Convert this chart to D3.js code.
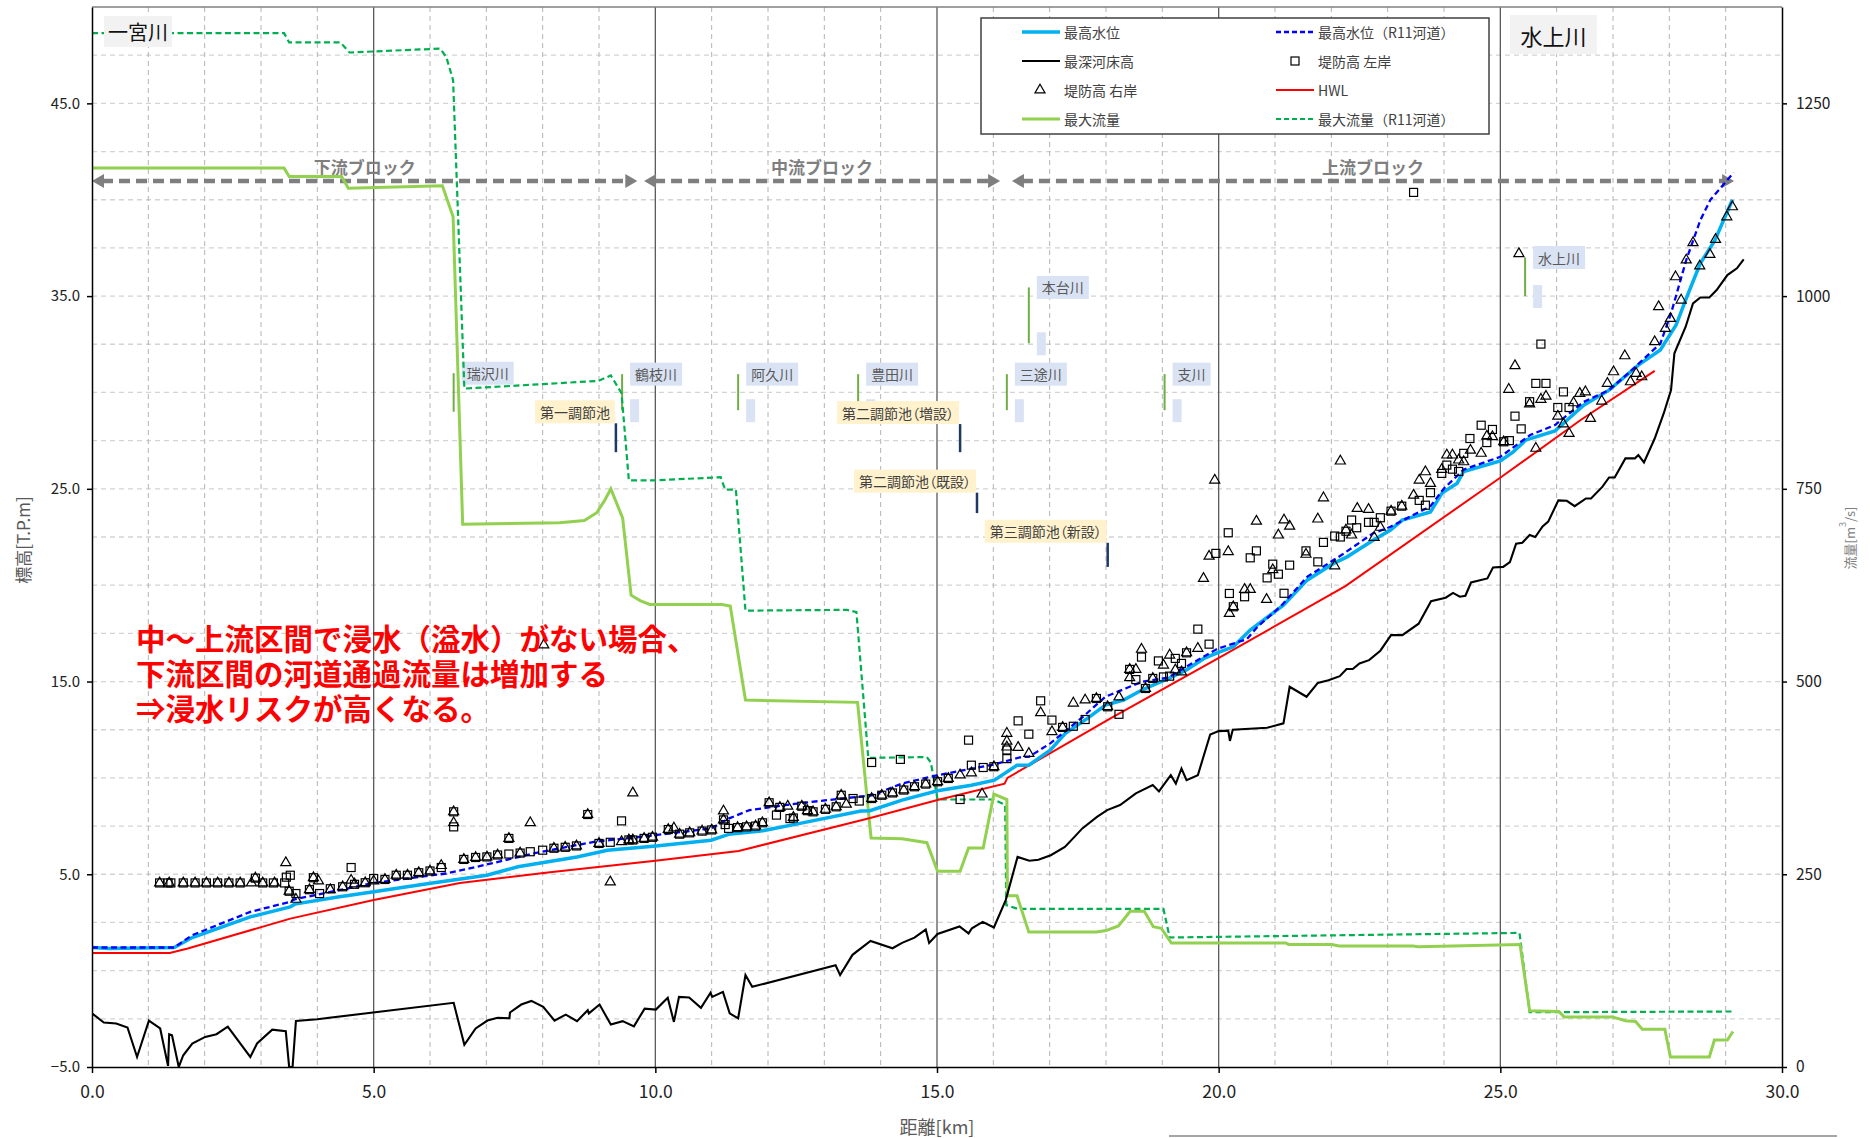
<!DOCTYPE html>
<html lang="ja">
<head>
<meta charset="utf-8">
<title>一宮川 縦断図</title>
<script src="https://cdn.jsdelivr.net/npm/d3@7"></script>
<style>
  html, body { margin: 0; padding: 0; background: #fff; }
  svg { display: block; font-family: 'Noto Sans CJK JP', 'Noto Sans', sans-serif; }
  .palt { font-feature-settings: "palt"; }
</style>
</head>
<body>
<div class="root"></div>
<script>
// ---- data (km, T.P.m) / (km, m3/s) ----
const distTicks = [0, 5, 10, 15, 20, 25, 30]
const elevTicks = [-5, 5, 15, 25, 35, 45]
const flowTicks = [0, 250, 500, 750, 1000, 1250]

const hwl = [[0,0.92],[1.38,0.92],[1.7,1.15],[3.52,2.7],[5.0,3.66],[6.53,4.55],[8.13,5.1],[10.0,5.7],[11.48,6.21],
  [13.78,7.89],[15.01,8.85],[16.2,9.7],[16.25,10.0],[18.08,13.09],[20.02,16.25],[22.25,19.95],[25.01,25.6],
  [26.42,28.56],[27.74,31.12]]

const maxLevel = [[0,1.2],[0.3,1.15],[1.46,1.2],[1.78,1.72],[2.81,2.79],[3.52,3.31],[3.6,3.45],[4.39,3.83],[4.55,3.9],
  [5.0,4.09],[5.98,4.52],[7.01,4.95],[7.56,5.39],[8.61,5.9],[9.15,6.25],[10.01,6.47],[10.99,6.77],[11.3,7.07],
  [11.87,7.24],[12.57,7.64],[13.65,8.28],[13.81,8.3],[14.38,8.85],[15.01,9.33],[15.61,9.62],[16.02,9.88],
  [16.42,10.66],[16.63,10.66],[17.01,11.44],[17.28,12.31],[17.67,13.09],[17.99,13.78],[18.31,14.04],[18.63,14.55],
  [19.11,15.16],[19.42,15.59],[19.74,16.2],[20.02,16.54],[20.26,16.8],[20.56,17.67],[21.15,18.96],[21.57,20.26],
  [22.04,21.13],[22.28,21.47],[22.75,22.34],[23.05,22.86],[23.26,23.38],[23.76,23.8],[23.97,24.8],[24.23,25.28],
  [24.35,25.9],[25.0,26.45],[25.23,26.92],[25.45,27.53],[25.97,28.0],[26.48,29.34],[26.93,30.12],[27.45,31.42],
  [27.84,32.2],[28.12,33.5],[28.29,34.8],[28.55,36.7],[28.81,37.9],[29.12,40.0]]

const maxLevelR11 = [[0,1.2],[1.46,1.2],[1.78,1.84],[2.81,3.05],[3.52,3.57],[3.6,3.7],[5.0,4.55],[6.29,5.04],[7.09,5.56],
  [7.88,6.11],[8.91,6.68],[10.0,7.03],[10.99,7.38],[11.31,7.9],[11.67,8.33],[12.6,8.7],[13.85,9.1],[14.38,9.71],
  [15.01,10.14],[16.03,10.71],[16.5,11.09],[16.63,11.09],[17.01,11.79],[17.59,13.17],[17.99,14.21],[18.63,14.98],
  [19.11,15.21],[19.5,15.9],[19.98,16.7],[20.5,17.2],[20.69,17.84],[21.12,18.96],[21.57,20.43],[22.2,21.6],
  [22.74,22.69],[23.05,23.03],[23.76,24.1],[24.0,25.02],[24.35,26.0],[25.0,26.66],[25.53,27.79],[25.97,28.31],
  [26.48,29.51],[26.93,30.12],[27.27,30.99],[27.84,32.54],[28.03,34.1],[28.3,36.87],[28.55,38.94],[28.73,40.0],
  [29.14,41.4]]

const bedLevel = [[0,-2.22],[0.21,-2.69],[0.43,-2.74],[0.63,-2.95],[0.8,-4.48],[1.01,-2.6],[1.21,-3.0],[1.35,-4.94],
  [1.37,-3.3],[1.42,-3.35],[1.54,-5.0],[1.62,-4.39],[1.78,-3.78],[2.01,-3.44],[2.21,-3.3],[2.41,-2.91],[2.81,-4.48],
  [2.93,-3.78],[3.2,-3.06],[3.44,-3.14],[3.5,-5.0],[3.56,-5.0],[3.62,-2.61],[4.0,-2.52],[6.42,-1.67],[6.61,-3.85],
  [6.81,-3.0],[7.02,-2.59],[7.2,-2.45],[7.41,-2.47],[7.42,-2.17],[7.62,-1.76],[7.8,-1.57],[8.01,-1.88],[8.21,-2.59],
  [8.41,-2.28],[8.61,-2.62],[8.8,-2.05],[8.82,-2.22],[9.01,-1.76],[9.21,-2.8],[9.42,-2.62],[9.62,-2.89],[9.81,-1.97],
  [10.01,-2.02],[10.22,-1.41],[10.33,-2.66],[10.42,-1.36],[10.6,-1.39],[10.81,-1.93],[10.98,-1.15],[11.01,-1.36],
  [11.2,-1.1],[11.32,-2.22],[11.47,-2.48],[11.6,-0.23],[11.72,-0.84],[13.2,0.28],[13.28,-0.23],[13.5,0.82],
  [13.82,1.54],[14.21,1.16],[14.38,1.44],[14.6,1.71],[14.8,2.13],[14.86,1.44],[15.01,1.9],[15.4,2.29],[15.56,1.93],
  [15.62,2.2],[15.81,2.53],[16.01,2.24],[16.22,3.66],[16.43,5.9],[16.64,5.7],[16.8,5.75],[17.02,5.99],[17.27,6.42],
  [17.44,6.94],[17.58,7.38],[17.84,7.98],[18.02,8.33],[18.25,8.59],[18.53,9.2],[18.83,9.63],[18.94,9.3],[19.15,10.14],
  [19.24,9.71],[19.34,10.49],[19.43,9.88],[19.63,10.14],[19.85,12.25],[20.0,12.43],[20.17,12.45],[20.2,11.92],
  [20.25,12.5],[20.86,12.6],[21.15,12.83],[21.26,14.73],[21.56,14.21],[21.76,14.93],[21.95,15.07],[22.15,15.28],
  [22.27,15.65],[22.38,15.65],[22.5,15.94],[22.67,16.11],[22.87,16.6],[23.06,17.41],[23.26,17.41],[23.55,18.0],
  [23.77,19.17],[24.03,19.35],[24.16,19.6],[24.28,19.4],[24.38,19.45],[24.48,20.14],[24.77,20.35],[24.87,20.92],
  [25.05,20.95],[25.17,21.2],[25.28,22.15],[25.39,22.2],[25.52,22.6],[25.62,22.5],[25.75,23.05],[25.85,23.3],
  [26.03,24.4],[26.18,24.38],[26.32,24.1],[26.52,24.5],[26.61,24.5],[26.81,25.1],[26.93,25.59],[27.03,25.59],
  [27.22,26.58],[27.39,26.58],[27.45,26.75],[27.55,26.37],[27.74,27.61],[27.9,28.91],[28.03,30.12],[28.09,32.03],
  [28.29,33.41],[28.42,34.62],[28.55,34.93],[28.71,34.93],[28.84,35.31],[29.03,36.09],[29.2,36.44],[29.32,36.9]]

const maxFlow = [[0,1166],[3.41,1166],[3.5,1155],[4.43,1155],[4.55,1140],[6.22,1143],[6.41,1103],[6.58,704],[8.3,706],
  [8.74,709],[8.96,719],[9.1,735],[9.21,750],[9.42,712],[9.57,612],[9.73,605],[9.9,600],[11.18,600],[11.33,598],
  [11.6,476],[13.59,473],[13.83,297],[14.38,296],[14.82,291],[15.01,254],[15.41,254],[15.56,284],[15.82,284],
  [16.01,354],[16.24,347],[16.25,222],[16.42,222],[16.63,175],[17.83,175],[18.0,177],[18.22,183],[18.43,202],
  [18.68,202],[18.84,182],[18.98,180],[19.16,161],[21.19,161],[21.24,159],[22.01,159],[22.14,157],[23.45,157],
  [23.54,156],[25.35,159],[25.52,73],[26.04,72],[26.13,65],[26.99,65],[27.22,60],[27.4,59],[27.52,49],[27.92,49],
  [28.02,13],[28.71,13],[28.8,35],[29.03,35],[29.13,46]]

const maxFlowR11 = [[0,1341],[3.41,1341],[3.5,1329],[4.41,1329],[4.57,1316],[6.18,1321],[6.29,1310],[6.41,1280],
  [6.61,880],[8.99,890],[9.21,897],[9.4,874],[9.53,761],[9.97,761],[11.16,765],[11.24,749],[11.43,749],[11.6,592],
  [13.4,593],[13.57,590],[13.78,401],[14.82,402],[14.89,395],[15.01,347],[16.0,347],[16.21,340],[16.23,210],
  [16.44,205],[19.02,205],[19.13,168],[25.34,174],[25.52,71],[29.12,72]]

const leftBank = [[1.2,4.55],[1.35,4.55],[1.4,4.55],[1.62,4.55],[1.83,4.55],[2.03,4.55],[2.23,4.55],[2.43,4.55],
  [2.63,4.55],[2.9,4.8],[3.03,4.55],[3.22,4.55],[3.42,4.55],[3.45,4.85],[3.52,4.95],[3.5,4.12],[3.62,4.0],[3.86,4.2],
  [3.93,4.82],[4.04,4.0],[4.23,4.25],[4.45,4.35],[4.6,5.35],[4.66,4.48],[4.85,4.56],[5.0,4.78],[5.2,4.73],[5.4,4.95],
  [5.6,4.95],[5.8,5.08],[6.0,5.17],[6.2,5.35],[6.42,8.24],[6.42,7.46],[6.6,5.77],[6.81,5.87],[7.01,5.9],[7.2,6.0],
  [7.4,6.05],[7.4,6.86],[7.6,6.1],[7.78,6.17],[8.0,6.25],[8.2,6.35],[8.4,6.4],[8.6,6.47],[8.8,8.1],[9.0,6.6],
  [9.2,6.66],[9.4,7.77],[9.53,6.78],[9.6,6.78],[9.8,6.86],[9.95,6.92],[10.23,7.32],[10.43,7.08],[10.61,7.15],
  [10.83,7.24],[11.0,7.3],[11.21,7.82],[11.24,7.58],[11.3,7.38],[11.46,7.42],[11.62,7.46],[11.78,7.5],[11.9,7.67],
  [12.02,8.71],[12.15,8.07],[12.21,8.47],[12.39,7.89],[12.45,7.92],[12.6,8.53],[12.7,8.3],[12.8,8.24],[13.02,8.37],
  [13.21,8.5],[13.3,9.1],[13.51,8.93],[13.62,8.8],[13.84,10.8],[13.84,8.93],[14.02,9.1],[14.21,9.22],[14.35,10.96],
  [14.41,9.37],[14.6,9.54],[14.8,9.68],[15.01,9.8],[15.2,9.97],[15.41,8.88],[15.56,11.96],[15.61,10.66],[15.82,10.54],
  [16.01,10.58],[16.24,11.45],[16.24,11.0],[16.44,12.96],[16.63,12.27],[16.84,14.0],[17.04,13.0],[17.23,12.62],
  [17.42,12.68],[17.63,13.03],[17.83,14.12],[18.03,13.69],[18.23,13.3],[18.42,15.63],[18.53,15.1],[18.63,16.27],
  [18.7,14.64],[18.83,15.16],[18.93,16.07],[19.02,15.24],[19.13,15.28],[19.23,16.2],[19.34,15.94],[19.43,16.49],
  [19.63,17.72],[19.83,16.94],[19.95,21.65],[20.17,22.72],[20.19,19.57],[20.26,18.88],[20.46,19.4],[20.56,21.42],
  [20.67,21.78],[20.86,20.38],[20.96,21.09],[21.06,20.57],[21.16,19.58],[21.26,21.04],[21.55,21.78],[21.76,21.21],
  [21.86,22.22],[22.06,22.55],[22.16,22.5],[22.26,22.8],[22.36,23.38],[22.45,22.98],[22.66,23.26],[22.76,23.26],
  [22.87,23.5],[23.06,23.84],[23.25,24.1],[23.46,40.38],[23.56,24.4],[23.67,24.15],[23.76,24.8],[23.96,25.8],
  [24.05,26.23],[24.15,26.02],[24.26,25.9],[24.35,26.84],[24.46,27.61],[24.66,28.3],[24.76,27.4],[24.86,28.08],
  [25.06,27.44],[25.16,27.5],[25.26,28.77],[25.37,28.11],[25.52,29.52],[25.63,30.47],[25.72,32.51],[25.81,30.47],
  [26.02,29.22],[26.12,30.03],[26.22,29.22]]

const rightBank = [[1.2,4.55],[1.37,4.55],[1.62,4.55],[1.83,4.55],[2.03,4.55],[2.23,4.55],[2.43,4.55],[2.63,4.55],
  [2.83,4.55],[2.9,4.8],[3.03,4.55],[3.24,4.55],[3.44,5.6],[3.5,4.12],[3.62,3.7],[3.86,4.2],[3.93,4.82],[4.02,4.65],
  [4.23,4.2],[4.45,4.35],[4.6,4.69],[4.66,4.5],[4.85,4.56],[5.0,4.65],[5.2,4.73],[5.4,4.95],[5.6,4.95],[5.8,5.08],
  [6.0,5.17],[6.2,5.45],[6.42,8.24],[6.42,7.67],[6.6,5.77],[6.81,5.87],[7.01,5.9],[7.2,6.0],[7.4,6.86],[7.6,6.1],
  [7.78,7.67],[8.02,16.9],[8.2,6.35],[8.4,6.4],[8.6,6.47],[8.8,8.1],[9.0,6.6],[9.2,4.6],[9.4,6.69],[9.53,6.78],
  [9.6,9.22],[9.6,6.78],[9.8,6.86],[9.95,6.92],[10.23,7.32],[10.33,7.4],[10.43,7.08],[10.61,7.15],[10.83,7.24],
  [11.0,7.3],[11.21,8.28],[11.21,7.82],[11.46,7.42],[11.62,7.46],[11.78,7.5],[11.9,7.67],[12.02,8.71],[12.21,8.47],
  [12.35,8.53],[12.45,7.95],[12.6,8.53],[12.7,8.3],[12.8,8.24],[13.02,8.37],[13.21,8.5],[13.3,9.1],[13.39,8.63],
  [13.84,8.93],[14.02,9.1],[14.21,9.22],[14.41,9.37],[14.6,9.54],[14.8,9.68],[15.01,9.8],[15.2,9.97],[15.41,10.15],
  [15.61,10.26],[15.8,9.16],[16.01,10.58],[16.24,12.31],[16.24,11.9],[16.24,11.6],[16.44,11.58],[16.63,11.27],
  [16.84,13.38],[17.04,12.4],[17.23,12.62],[17.42,13.88],[17.63,14.04],[17.83,14.12],[18.03,13.69],[18.23,14.2],
  [18.42,15.63],[18.42,15.2],[18.53,15.63],[18.63,16.67],[18.7,14.64],[18.83,15.16],[19.02,15.85],[19.13,16.37],
  [19.23,15.6],[19.34,15.5],[19.43,16.49],[19.63,16.72],[19.73,20.35],[19.83,21.5],[19.93,25.45],[20.17,21.74],
  [20.19,18.53],[20.26,18.88],[20.46,19.78],[20.56,19.78],[20.67,23.32],[20.85,19.26],[20.96,20.8],[21.06,22.6],
  [21.16,23.38],[21.26,23.06],[21.55,21.6],[21.76,23.43],[21.86,24.53],[22.06,21.0],[22.16,26.44],[22.26,22.86],
  [22.36,22.6],[22.46,23.98],[22.66,23.93],[22.76,22.48],[22.87,23.0],[23.06,23.84],[23.25,24.1],[23.46,24.67],
  [23.56,25.45],[23.67,25.88],[23.76,25.28],[23.96,26.0],[24.05,26.75],[24.15,26.75],[24.26,26.49],[24.35,26.4],
  [24.47,27.0],[24.66,26.84],[24.76,27.73],[24.86,27.7],[25.06,27.44],[25.15,30.16],[25.26,31.39],[25.33,37.2],
  [25.52,29.4],[25.63,27.1],[25.72,29.64],[25.81,29.8],[26.02,28.77],[26.12,28.36],[26.22,27.87],[26.3,29.46],
  [26.41,29.95],[26.51,30.03],[26.6,28.65],[26.8,29.55],[26.9,30.47],[27.01,31.07],[27.21,31.9],[27.31,30.55],
  [27.41,30.99],[27.51,30.81],[27.74,32.63],[27.81,34.45],[27.93,33.32],[28.02,33.84],[28.11,36.0],[28.21,34.79],
  [28.3,36.87],[28.42,37.77],[28.54,36.56],[28.72,37.16],[28.82,37.94],[29.02,39.11],[29.12,39.63]]

// tributary confluences: name, km, marker low, marker high (T.P.m)
const tribNames = ['瑞沢川', '鶴枝川', '阿久川', '豊田川', '三途川', '支川', '本台川', '水上川']
const tribKm    = [6.42, 9.41, 11.47, 13.6, 16.24, 19.04, 16.63, 25.44]
const tribLow   = [29.0, 29.08, 29.08, 29.08, 29.08, 29.08, 32.55, 35.0]
const tribHigh  = [31.0, 30.95, 30.95, 30.95, 30.95, 30.95, 35.45, 37.0]

// regulating ponds
const pondNames = ['第一調節池', '第二調節池（増設）', '第二調節池（既設）', '第三調節池（新設）']
const pondKm    = [9.3, 15.41, 15.71, 18.03]
const pondTop   = [28.4, 28.36, 24.8, 22.2]
const pondBot   = [26.9, 26.9, 23.74, 20.95]

const blockNames = ['下流ブロック', '中流ブロック', '上流ブロック']
const blockFrom  = [0, 9.8, 16.33]
const blockTo    = [9.68, 16.12, 29.15]

const noteLines = ['中～上流区間で浸水（溢水）がない場合、', '下流区間の河道通過流量は増加する', '⇒浸水リスクが高くなる。']

// ---- drawing ----
const W = 1870, H = 1138
const L = 92, R = 1782, T = 7, B = 1067

const svg = d3.select('.root').append('svg').attr('width', W).attr('height', H)

const x = d3.scaleLinear().domain([0, 30]).range([L, R])
const y = d3.scaleLinear().domain([-5, 50]).range([B, T])
const yQ = d3.scaleLinear().domain([0, 1375]).range([B, T])

svg.append('defs').append('clipPath').attr('id', 'plot')
   .append('rect').attr('x', L).attr('y', T).attr('width', R - L).attr('height', B - T)

// grid
const grid = svg.append('g')
grid.selectAll('.hg').data(d3.range(-2.5, 49, 2.5)).enter().append('line')
    .attr('x1', L).attr('x2', R).attr('y1', d => y(d)).attr('y2', d => y(d))
    .attr('stroke', '#d4d4d4').attr('stroke-width', 1.3).attr('stroke-dasharray', '5,4')
grid.selectAll('.vg').data(d3.range(1, 30)).enter().append('line')
    .attr('x1', d => x(d)).attr('x2', d => x(d)).attr('y1', T).attr('y2', B)
    .attr('stroke', d => d % 5 === 0 ? '#5a5a5a' : '#b4b4b4')
    .attr('stroke-width', d => d % 5 === 0 ? 1.3 : 1)
    .attr('stroke-dasharray', d => d % 5 === 0 ? null : '5,4')
svg.append('line').attr('x1', L).attr('x2', R).attr('y1', T).attr('y2', T)
   .attr('stroke', '#808080').attr('stroke-width', 1.3)

// tributary markers
const trib = svg.append('g')
tribNames.forEach((name, i) => {
  const tx = x(tribKm[i])
  if (i > 0) trib.append('rect').attr('x', tx + 8).attr('y', y(tribLow[i]) - 11)
                .attr('width', 9).attr('height', 23).attr('fill', '#dae3f3')
  trib.append('line').attr('x1', tx).attr('x2', tx)
      .attr('y1', y(tribLow[i])).attr('y2', y(tribHigh[i]))
      .attr('stroke', '#70ad47').attr('stroke-width', 2)
  const g = trib.append('g')
  const t = g.append('text').attr('x', tx + 13).attr('y', y(tribHigh[i]))
             .attr('dominant-baseline', 'central').attr('font-size', 14).attr('fill', '#595959').text(name)
  const bb = t.node().getBBox()
  g.insert('rect', 'text').attr('x', tx + 8).attr('y', y(tribHigh[i]) - 11.5)
   .attr('width', bb.width + 10).attr('height', 23).attr('fill', '#dae3f3')
})

// ponds
const pond = svg.append('g')
pondNames.forEach((name, i) => {
  const px = x(pondKm[i])
  pond.append('line').attr('x1', px).attr('x2', px)
      .attr('y1', y(pondTop[i])).attr('y2', y(pondBot[i]))
      .attr('stroke', '#1f3864').attr('stroke-width', 2.5)
  const g = pond.append('g')
  const t = g.append('text').attr('class', 'palt').attr('x', px - 6).attr('y', y(pondTop[i]) - 11.5)
             .attr('text-anchor', 'end').attr('dominant-baseline', 'central')
             .attr('font-size', 14).attr('fill', '#404040').text(name)
  const bb = t.node().getBBox()
  g.insert('rect', 'text').attr('x', bb.x - 5).attr('y', y(pondTop[i]) - 23)
   .attr('width', bb.width + 10).attr('height', 23).attr('fill', '#fff2cc')
})

// block arrows
const blocks = svg.append('g')
const ay = 181
blockNames.forEach((name, i) => {
  const x0 = x(blockFrom[i]), x1 = x(blockTo[i])
  blocks.append('line').attr('x1', x0 + 10).attr('x2', x1 - 10).attr('y1', ay).attr('y2', ay)
        .attr('stroke', '#7f7f7f').attr('stroke-width', 4.5).attr('stroke-dasharray', '11,6')
  blocks.append('path').attr('d', `M${x0},${ay} L${x0 + 12},${ay - 7} L${x0 + 12},${ay + 7} Z`).attr('fill', '#7f7f7f')
  blocks.append('path').attr('d', `M${x1},${ay} L${x1 - 12},${ay - 7} L${x1 - 12},${ay + 7} Z`).attr('fill', '#7f7f7f')
  blocks.append('text').attr('x', (x0 + x1) / 2).attr('y', 166).attr('dominant-baseline', 'central')
        .attr('text-anchor', 'middle').attr('font-size', 17).attr('font-weight', 'bold')
        .attr('fill', '#7f7f7f').text(name)
})

// series
const lineE = d3.line().x(d => x(d[0])).y(d => y(d[1]))
const lineQ = d3.line().x(d => x(d[0])).y(d => yQ(d[1]))
const plot = svg.append('g').attr('clip-path', 'url(#plot)')

plot.append('path').datum(maxFlowR11).attr('d', lineQ).attr('fill', 'none')
    .attr('stroke', '#00b050').attr('stroke-width', 2.2).attr('stroke-dasharray', '6,3.5')
plot.append('path').datum(maxFlow).attr('d', lineQ).attr('fill', 'none')
    .attr('stroke', '#92d050').attr('stroke-width', 3)
plot.append('path').datum(bedLevel).attr('d', lineE).attr('fill', 'none')
    .attr('stroke', '#000').attr('stroke-width', 2.1)
plot.append('path').datum(hwl).attr('d', lineE).attr('fill', 'none')
    .attr('stroke', '#ff0000').attr('stroke-width', 2)
plot.append('path').datum(maxLevel).attr('d', lineE).attr('fill', 'none')
    .attr('stroke', '#00b0f0').attr('stroke-width', 3.5)
plot.append('path').datum(maxLevelR11).attr('d', lineE).attr('fill', 'none')
    .attr('stroke', '#0000ff').attr('stroke-width', 2.3).attr('stroke-dasharray', '6,3.5')

const tri = d3.symbol().type(d3.symbolTriangle).size(44)
plot.append('g').selectAll('rect').data(leftBank).enter().append('rect')
    .attr('x', d => x(d[0]) - 4).attr('y', d => y(d[1]) - 4)
    .attr('width', 8).attr('height', 8).attr('fill', 'none').attr('stroke', '#000').attr('stroke-width', 1.2)
plot.append('g').selectAll('path').data(rightBank).enter().append('path')
    .attr('d', tri).attr('transform', d => `translate(${x(d[0])},${y(d[1])})`)
    .attr('fill', 'none').attr('stroke', '#000').attr('stroke-width', 1.2)

// axes
const fmt1 = d3.format('.1f')
const axL = svg.append('g').attr('transform', `translate(${L},0)`)
  .call(d3.axisLeft(y).tickValues(elevTicks).tickFormat(fmt1).tickSize(5).tickSizeOuter(0))
const axR = svg.append('g').attr('transform', `translate(${R},0)`)
  .call(d3.axisRight(yQ).tickValues(flowTicks).tickFormat(d3.format('d')).tickSize(5).tickSizeOuter(0))
const axB = svg.append('g').attr('transform', `translate(0,${B})`)
  .call(d3.axisBottom(x).tickValues(distTicks).tickFormat(fmt1).tickSize(6).tickSizeOuter(0))
;[axL, axR, axB].forEach(a => {
  a.selectAll('path, line').attr('stroke', '#000').attr('stroke-width', 1.5)
  a.selectAll('text').attr('fill', '#222').attr('font-family', "'Noto Sans CJK JP', sans-serif")
})
axL.selectAll('text').attr('font-size', 15).attr('x', -12)
axR.selectAll('text').attr('font-size', 15.5).attr('x', 14)
axB.selectAll('text').attr('font-size', 17.5).attr('y', 19)

svg.append('text').attr('transform', 'translate(22,540) rotate(-90)').attr('text-anchor', 'middle')
   .attr('dominant-baseline', 'central').attr('font-size', 17).attr('fill', '#595959').text('標高[T.P.m]')
svg.append('text').attr('transform', 'translate(1849,538) rotate(-90)').attr('text-anchor', 'middle')
   .attr('dominant-baseline', 'central').attr('font-size', 13).attr('fill', '#7f7f7f')
   .html('流量[m<tspan baseline-shift="super" font-size="9">3</tspan>/s]')
svg.append('text').attr('x', 937).attr('y', 1126).attr('text-anchor', 'middle')
   .attr('dominant-baseline', 'central').attr('font-size', 18).attr('fill', '#595959').text('距離[km]')

// river name tags
const tag = (x0, y0, w, h, size, label) => {
  svg.append('rect').attr('x', x0).attr('y', y0).attr('width', w).attr('height', h).attr('fill', '#f2f2f2')
  svg.append('text').attr('x', x0 + w / 2).attr('y', y0 + h / 2).attr('text-anchor', 'middle')
     .attr('dominant-baseline', 'central').attr('font-size', size).attr('fill', '#111').text(label)
}
tag(104, 16, 68, 31, 20, '一宮川')
tag(1510, 15, 87, 39, 22, '水上川')

// note (one text block, three lines)
svg.append('text').attr('font-size', 29.5).attr('font-weight', 'bold').attr('fill', '#ff0000')
   .selectAll('tspan').data(noteLines).enter().append('tspan')
   .attr('x', 136).attr('y', (d, i) => 650 + i * 35).text(d => d)

// legend
const lg = svg.append('g')
lg.append('rect').attr('x', 981).attr('y', 18).attr('width', 508).attr('height', 116)
  .attr('fill', '#fff').attr('stroke', '#404040').attr('stroke-width', 1.5)
const legend = [
  { name: '最高水位', kind: 'line', color: '#00b0f0', w: 3.5, dash: null },
  { name: '最高水位（R11河道）', kind: 'line', color: '#0000ff', w: 2.3, dash: '5,3' },
  { name: '最深河床高', kind: 'line', color: '#000', w: 2, dash: null },
  { name: '堤防高 左岸', kind: 'square' },
  { name: '堤防高 右岸', kind: 'triangle' },
  { name: 'HWL', kind: 'line', color: '#ff0000', w: 2, dash: null },
  { name: '最大流量', kind: 'line', color: '#92d050', w: 3, dash: null },
  { name: '最大流量（R11河道）', kind: 'line', color: '#00b050', w: 2.2, dash: '5,3' }
]
legend.forEach((d, i) => {
  const col = i % 2, row = Math.floor(i / 2)
  const lx = col === 0 ? 1022 : 1276, ly = 32 + row * 29
  if (d.kind === 'line') {
    lg.append('line').attr('x1', lx).attr('x2', lx + 38).attr('y1', ly).attr('y2', ly)
      .attr('stroke', d.color).attr('stroke-width', d.w).attr('stroke-dasharray', d.dash)
  } else if (d.kind === 'square') {
    lg.append('rect').attr('x', lx + 15).attr('y', ly - 4).attr('width', 8).attr('height', 8)
      .attr('fill', 'none').attr('stroke', '#000').attr('stroke-width', 1.2)
  } else {
    lg.append('path').attr('d', tri).attr('transform', `translate(${lx + 18},${ly})`)
      .attr('fill', 'none').attr('stroke', '#000').attr('stroke-width', 1.2)
  }
  lg.append('text').attr('x', lx + 42).attr('y', ly).attr('dominant-baseline', 'central')
    .attr('font-size', 14).attr('fill', '#404040').text(d.name)
})

// stray rule at bottom right
svg.append('line').attr('x1', 1169).attr('x2', 1837).attr('y1', 1136).attr('y2', 1136)
   .attr('stroke', '#a6a6a6').attr('stroke-width', 2)
</script>
</body>
</html>
